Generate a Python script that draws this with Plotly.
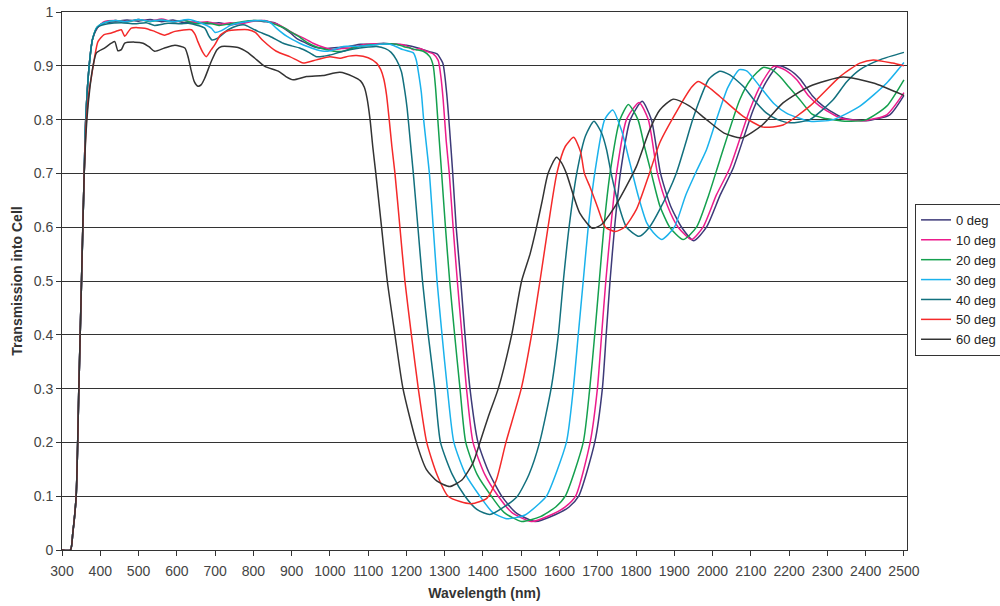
import plotly.graph_objects as go

# ---------------- data ----------------
labels = ["0 deg", "10 deg", "20 deg", "30 deg", "40 deg", "50 deg", "60 deg"]
colors = ["#3d3a78", "#ec1c8c", "#14a04e", "#1ab2ec", "#12707e", "#f42a2a", "#333333"]

wl_0 = [300, 322, 328, 337, 344, 351, 358, 362, 371, 380, 392, 410, 440, 470, 500, 530, 560, 590, 620, 650, 680, 710, 740, 770, 800, 830, 855, 875, 895, 915, 935, 960, 990, 1020, 1050, 1080, 1110, 1140, 1170, 1200, 1230, 1260, 1280, 1295, 1305, 1313, 1321, 1330, 1342, 1353, 1366, 1387, 1415, 1449, 1485, 1536, 1590, 1625, 1650, 1692, 1712, 1722, 1732, 1744, 1759, 1785, 1816, 1840, 1864, 1890, 1919, 1951, 1984, 2020, 2054, 2106, 2140, 2172, 2200, 2228, 2260, 2289, 2341, 2402, 2463, 2500]
tr_0 = [0, 0, 0.03, 0.1, 0.3, 0.5, 0.7, 0.8, 0.9, 0.95, 0.97, 0.98, 0.982, 0.985, 0.983, 0.986, 0.982, 0.985, 0.98, 0.982, 0.978, 0.98, 0.976, 0.98, 0.984, 0.982, 0.98, 0.972, 0.962, 0.95, 0.943, 0.935, 0.932, 0.934, 0.936, 0.94, 0.94, 0.942, 0.94, 0.938, 0.933, 0.926, 0.922, 0.905, 0.85, 0.78, 0.7, 0.6, 0.5, 0.4, 0.3, 0.2, 0.145, 0.1, 0.07, 0.053, 0.066, 0.08, 0.1, 0.2, 0.3, 0.4, 0.5, 0.6, 0.7, 0.8, 0.834, 0.8, 0.7, 0.64, 0.6, 0.575, 0.6, 0.66, 0.71, 0.818, 0.87, 0.9, 0.893, 0.876, 0.845, 0.825, 0.803, 0.798, 0.809, 0.845]

wl_10 = [300, 322, 328, 337, 344, 351, 358, 362, 371, 380, 392, 410, 440, 470, 500, 530, 560, 590, 620, 650, 680, 710, 740, 770, 800, 830, 850, 870, 887, 905, 930, 956, 985, 1008, 1030, 1052, 1075, 1096, 1120, 1139, 1160, 1183, 1200, 1218, 1235, 1252, 1270, 1283, 1290, 1296, 1304, 1312, 1322, 1333, 1345, 1357, 1374, 1405, 1440, 1475, 1527, 1580, 1615, 1642, 1680, 1699, 1710, 1721, 1734, 1749, 1775, 1808, 1832, 1856, 1882, 1910, 1945, 1975, 2010, 2045, 2097, 2130, 2160, 2190, 2220, 2250, 2280, 2333, 2394, 2455, 2500]
tr_10 = [0, 0, 0.03, 0.1, 0.3, 0.5, 0.7, 0.8, 0.9, 0.95, 0.97, 0.982, 0.984, 0.982, 0.986, 0.983, 0.987, 0.982, 0.984, 0.98, 0.982, 0.977, 0.98, 0.978, 0.983, 0.984, 0.98, 0.975, 0.968, 0.96, 0.952, 0.942, 0.934, 0.93, 0.932, 0.933, 0.937, 0.94, 0.941, 0.941, 0.94, 0.94, 0.937, 0.93, 0.932, 0.927, 0.922, 0.91, 0.88, 0.837, 0.76, 0.7, 0.6, 0.5, 0.4, 0.3, 0.2, 0.14, 0.1, 0.07, 0.053, 0.066, 0.08, 0.1, 0.2, 0.3, 0.4, 0.5, 0.6, 0.7, 0.8, 0.832, 0.8, 0.7, 0.64, 0.6, 0.577, 0.6, 0.66, 0.71, 0.818, 0.87, 0.899, 0.892, 0.874, 0.845, 0.825, 0.803, 0.798, 0.809, 0.85]

wl_20 = [300, 322, 328, 337, 344, 351, 358, 362, 371, 380, 392, 410, 440, 470, 500, 530, 560, 590, 620, 650, 680, 710, 740, 770, 804, 838, 860, 882, 900, 917, 939, 965, 991, 1010, 1035, 1055, 1078, 1105, 1130, 1155, 1174, 1192, 1209, 1225, 1244, 1261, 1270, 1276, 1282, 1292, 1302, 1313, 1326, 1340, 1355, 1385, 1422, 1455, 1501, 1550, 1590, 1615, 1662, 1679, 1692, 1704, 1716, 1732, 1758, 1780, 1805, 1822, 1840, 1862, 1888, 1923, 1958, 1990, 2019, 2071, 2100, 2132, 2155, 2176, 2200, 2228, 2260, 2289, 2350, 2402, 2455, 2500]
tr_20 = [0, 0, 0.03, 0.1, 0.3, 0.5, 0.7, 0.8, 0.9, 0.95, 0.972, 0.98, 0.984, 0.982, 0.986, 0.982, 0.985, 0.982, 0.984, 0.978, 0.98, 0.975, 0.978, 0.982, 0.984, 0.982, 0.976, 0.97, 0.962, 0.955, 0.944, 0.935, 0.93, 0.927, 0.927, 0.932, 0.936, 0.939, 0.94, 0.941, 0.94, 0.936, 0.933, 0.93, 0.927, 0.917, 0.9, 0.86, 0.8, 0.7, 0.6, 0.5, 0.4, 0.3, 0.2, 0.14, 0.1, 0.07, 0.053, 0.062, 0.08, 0.1, 0.2, 0.3, 0.4, 0.5, 0.6, 0.7, 0.8, 0.828, 0.8, 0.75, 0.7, 0.64, 0.6, 0.577, 0.6, 0.66, 0.725, 0.837, 0.875, 0.897, 0.893, 0.88, 0.86, 0.837, 0.81, 0.803, 0.797, 0.8, 0.825, 0.874]

wl_30 = [300, 322, 328, 337, 344, 351, 358, 362, 371, 380, 392, 410, 440, 470, 499, 530, 560, 590, 630, 664, 690, 700, 715, 743, 780, 821, 845, 860, 887, 921, 945, 965, 991, 1010, 1035, 1070, 1104, 1130, 1157, 1175, 1191, 1218, 1226, 1232, 1239, 1245, 1260, 1270, 1280, 1293, 1307, 1324, 1355, 1392, 1425, 1462, 1510, 1545, 1566, 1618, 1636, 1649, 1662, 1675, 1692, 1718, 1739, 1762, 1784, 1805, 1828, 1845, 1867, 1900, 1930, 1955, 1984, 2010, 2040, 2070, 2090, 2123, 2160, 2193, 2254, 2315, 2385, 2455, 2500]
tr_30 = [0, 0, 0.03, 0.1, 0.3, 0.5, 0.7, 0.8, 0.9, 0.95, 0.972, 0.98, 0.984, 0.982, 0.986, 0.983, 0.985, 0.982, 0.986, 0.979, 0.97, 0.962, 0.965, 0.976, 0.982, 0.984, 0.98, 0.97, 0.955, 0.942, 0.935, 0.93, 0.927, 0.93, 0.936, 0.936, 0.938, 0.94, 0.94, 0.935, 0.93, 0.924, 0.91, 0.885, 0.85, 0.8, 0.7, 0.6, 0.5, 0.4, 0.3, 0.2, 0.14, 0.1, 0.07, 0.058, 0.065, 0.085, 0.1, 0.2, 0.3, 0.4, 0.5, 0.6, 0.7, 0.8, 0.818, 0.78, 0.719, 0.66, 0.608, 0.59, 0.577, 0.6, 0.66, 0.7, 0.744, 0.8, 0.86, 0.893, 0.89, 0.862, 0.83, 0.812, 0.797, 0.8, 0.825, 0.868, 0.906]

wl_40 = [300, 322, 328, 337, 344, 351, 358, 362, 371, 380, 394, 420, 455, 490, 520, 542, 577, 610, 630, 655, 673, 684, 692, 708, 734, 760, 778, 795, 812, 843, 878, 900, 921, 945, 965, 985, 1000, 1035, 1078, 1100, 1122, 1145, 1160, 1174, 1187, 1196, 1202, 1210, 1218, 1230, 1242, 1257, 1274, 1289, 1320, 1353, 1385, 1418, 1455, 1490, 1520, 1548, 1578, 1597, 1610, 1625, 1645, 1668, 1690, 1710, 1723, 1735, 1755, 1775, 1808, 1835, 1862, 1905, 1948, 1967, 1990, 2019, 2045, 2080, 2110, 2141, 2170, 2202, 2254, 2315, 2350, 2385, 2440, 2500]
tr_40 = [0, 0, 0.03, 0.1, 0.3, 0.5, 0.7, 0.8, 0.9, 0.95, 0.972, 0.978, 0.98, 0.978, 0.98, 0.975, 0.979, 0.978, 0.979, 0.975, 0.97, 0.955, 0.948, 0.952, 0.967, 0.975, 0.976, 0.97, 0.964, 0.955, 0.942, 0.937, 0.933, 0.925, 0.917, 0.918, 0.92, 0.927, 0.933, 0.935, 0.936, 0.932, 0.925, 0.911, 0.889, 0.852, 0.82, 0.76, 0.7, 0.6, 0.5, 0.4, 0.3, 0.2, 0.14, 0.1, 0.075, 0.066, 0.08, 0.1, 0.14, 0.2, 0.3, 0.4, 0.5, 0.6, 0.7, 0.77, 0.797, 0.775, 0.744, 0.7, 0.64, 0.6, 0.583, 0.6, 0.633, 0.7, 0.8, 0.838, 0.875, 0.89, 0.883, 0.862, 0.835, 0.812, 0.8, 0.794, 0.8, 0.837, 0.87, 0.893, 0.912, 0.925]

wl_50 = [300, 322, 328, 337, 344, 351, 358, 364, 372, 377, 385, 394, 410, 429, 445, 455, 464, 481, 516, 542, 568, 595, 638, 648, 655, 668, 677, 690, 699, 715, 734, 786, 805, 825, 860, 895, 915, 930, 965, 1000, 1026, 1050, 1070, 1100, 1122, 1133, 1141, 1148, 1155, 1162, 1170, 1183, 1196, 1213, 1231, 1253, 1280, 1309, 1340, 1370, 1410, 1435, 1460, 1500, 1527, 1549, 1570, 1593, 1615, 1637, 1655, 1665, 1679, 1698, 1720, 1746, 1770, 1801, 1835, 1862, 1910, 1945, 1962, 1990, 2019, 2080, 2132, 2184, 2254, 2333, 2385, 2420, 2470, 2500]
tr_50 = [0, 0, 0.03, 0.1, 0.3, 0.5, 0.7, 0.8, 0.86, 0.88, 0.915, 0.945, 0.958, 0.961, 0.965, 0.967, 0.955, 0.97, 0.97, 0.964, 0.957, 0.964, 0.967, 0.958, 0.945, 0.925, 0.917, 0.93, 0.939, 0.958, 0.965, 0.967, 0.962, 0.947, 0.927, 0.917, 0.91, 0.905, 0.911, 0.917, 0.914, 0.918, 0.919, 0.915, 0.905, 0.893, 0.875, 0.846, 0.8, 0.75, 0.7, 0.6, 0.5, 0.4, 0.3, 0.2, 0.14, 0.1, 0.09, 0.086, 0.096, 0.13, 0.2, 0.3, 0.4, 0.5, 0.6, 0.7, 0.75, 0.767, 0.74, 0.7, 0.676, 0.64, 0.6, 0.592, 0.6, 0.633, 0.7, 0.757, 0.82, 0.86, 0.871, 0.86, 0.843, 0.806, 0.786, 0.79, 0.825, 0.88, 0.905, 0.911, 0.905, 0.9]

wl_60 = [300, 322, 328, 337, 344, 351, 358, 365, 373, 381, 390, 411, 429, 438, 446, 455, 464, 490, 512, 528, 542, 568, 595, 621, 630, 638, 646, 655, 664, 673, 690, 705, 717, 760, 785, 804, 830, 865, 885, 904, 939, 982, 1026, 1061, 1080, 1090, 1097, 1105, 1112, 1120, 1135, 1150, 1170, 1191, 1226, 1252, 1280, 1313, 1345, 1374, 1392, 1415, 1440, 1475, 1501, 1523, 1540, 1555, 1570, 1592, 1605, 1618, 1653, 1686, 1710, 1740, 1770, 1801, 1835, 1862, 1897, 1940, 1984, 2030, 2076, 2130, 2184, 2254, 2341, 2420, 2500]
tr_60 = [0, 0, 0.03, 0.1, 0.3, 0.5, 0.7, 0.8, 0.86, 0.899, 0.924, 0.933, 0.942, 0.945, 0.928, 0.93, 0.942, 0.944, 0.942, 0.935, 0.927, 0.933, 0.938, 0.933, 0.915, 0.89, 0.87, 0.862, 0.865, 0.877, 0.908, 0.93, 0.936, 0.934, 0.925, 0.914, 0.899, 0.89, 0.88, 0.874, 0.88, 0.882, 0.888, 0.88, 0.872, 0.86, 0.84, 0.8, 0.75, 0.7, 0.6, 0.5, 0.4, 0.3, 0.2, 0.15, 0.128, 0.118, 0.13, 0.162, 0.2, 0.25, 0.3, 0.4, 0.5, 0.55, 0.6, 0.65, 0.7, 0.73, 0.72, 0.7, 0.626, 0.598, 0.605, 0.633, 0.67, 0.713, 0.78, 0.818, 0.838, 0.825, 0.8, 0.775, 0.766, 0.79, 0.831, 0.862, 0.879, 0.868, 0.845]

series_x = [wl_0, wl_10, wl_20, wl_30, wl_40, wl_50, wl_60]
series_y = [tr_0, tr_10, tr_20, tr_30, tr_40, tr_50, tr_60]

x_ticks = list(range(300, 2501, 100))
y_ticks = [i / 10 for i in range(11)]
y_labels = ["0", "0.1", "0.2", "0.3", "0.4", "0.5", "0.6", "0.7", "0.8", "0.9", "1"]

# ---------------- figure ----------------
FONT = "Liberation Sans, Arial, sans-serif"
fig = go.Figure()
for lab, col, xs, ys in zip(labels, colors, series_x, series_y):
    fig.add_trace(go.Scatter(
        x=xs, y=ys, mode="lines", name=lab,
        line=dict(color=col, width=1.5, shape="spline", smoothing=0.6),
    ))

fig.update_layout(
    width=1000, height=606,
    margin=dict(l=62, r=93, t=12, b=56, autoexpand=False),
    paper_bgcolor="white", plot_bgcolor="white",
    font=dict(family=FONT, size=14, color="#333333"),
    showlegend=True,
    legend=dict(
        x=1.0095, xanchor="left", y=0.502, yanchor="middle",
        bordercolor="#333333", borderwidth=1, bgcolor="white",
        font=dict(family=FONT, size=13, color="#222222"),
        tracegroupgap=0, itemwidth=30,
    ),
)
fig.update_xaxes(
    range=[300, 2508], tickvals=x_ticks, ticktext=[str(v) for v in x_ticks],
    ticks="outside", ticklen=5, tickcolor="#333333",
    showline=True, linecolor="#333333", linewidth=1, mirror=True,
    showgrid=False, zeroline=False, automargin=False,
    title=dict(text="<b>Wavelength (nm)</b>", font=dict(family=FONT, size=14, color="#333333"), standoff=10),
    tickfont=dict(family=FONT, size=14, color="#444444"),
    ticklabelstandoff=3,
)
fig.update_yaxes(
    range=[0, 1], tickvals=y_ticks, ticktext=y_labels,
    ticks="outside", ticklen=5, tickcolor="#333333",
    showline=True, linecolor="#333333", linewidth=1, mirror=True,
    showgrid=True, gridcolor="#333333", gridwidth=1, zeroline=False, automargin=False,
    title=dict(text="<b>Transmission into Cell</b>", font=dict(family=FONT, size=14, color="#333333"), standoff=7),
    tickfont=dict(family=FONT, size=14, color="#444444"),
)

fig.write_html("out.html", config={"displayModeBar": False},
               post_script="document.body.style.margin='0';")
